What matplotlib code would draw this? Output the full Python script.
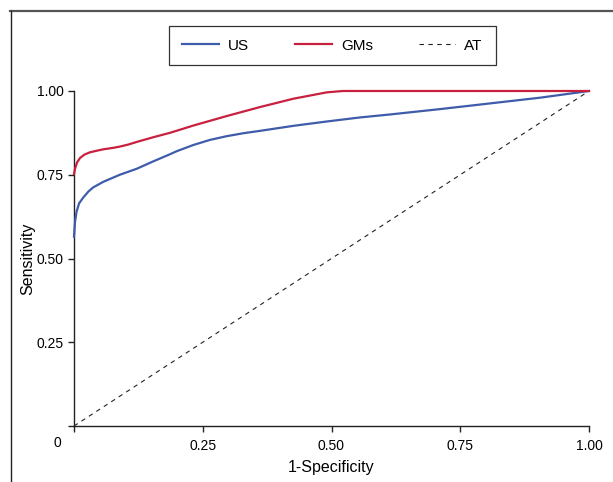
import matplotlib
matplotlib.use("Agg")
import matplotlib.pyplot as plt
from matplotlib.lines import Line2D

plt.rcParams['font.family'] = ['Liberation Sans', 'DejaVu Sans']

# ROC curves
us_fpr = [0, 0.002, 0.005, 0.01, 0.018, 0.028, 0.037, 0.057, 0.089, 0.122, 0.154,
          0.186, 0.199, 0.232, 0.264, 0.296, 0.329, 0.361, 0.426, 0.491, 0.555,
          0.614, 0.711, 0.808, 0.905, 1.0]
us_tpr = [0.565, 0.61, 0.64, 0.665, 0.682, 0.700, 0.712, 0.729, 0.750, 0.768, 0.790,
          0.811, 0.820, 0.839, 0.854, 0.865, 0.874, 0.881, 0.896, 0.909, 0.921,
          0.930, 0.946, 0.963, 0.980, 1.0]

gms_fpr = [0, 0.002, 0.006, 0.0117, 0.02, 0.031, 0.045, 0.057, 0.075, 0.089, 0.105,
           0.122, 0.154, 0.186, 0.232, 0.296, 0.361, 0.426, 0.491, 0.522, 1.0]
gms_tpr = [0.752, 0.768, 0.787, 0.80, 0.81, 0.817, 0.822, 0.826, 0.830, 0.834, 0.840,
           0.848, 0.862, 0.875, 0.897, 0.925, 0.952, 0.977, 0.996, 1.0, 1.0]

ref_x = [0, 1]
ref_y = [0, 1]

ticks = [0, 0.25, 0.5, 0.75, 1.0]
tick_labels = ['', '0.25', '0.50', '0.75', '1.00']

fig = plt.figure(figsize=(6.13, 4.82), dpi=100)
ax = fig.add_axes([74 / 613, 1 - 426 / 482, 515 / 613, 335 / 482])

ax.plot(us_fpr, us_tpr, color='#3f5cab', lw=1.6, label='US', clip_on=False, zorder=3)
ax.plot(gms_fpr, gms_tpr, color='#c8203f', lw=1.6, label='GMs', clip_on=False, zorder=3)
ax.plot(ref_x, ref_y, color='#222222', lw=0.8, ls=(0, (4, 4)), label='AT', clip_on=False)

ax.set_xlim(0, 1)
ax.set_ylim(0, 1)
ax.set_xticks(ticks)
ax.set_xticklabels(tick_labels)
ax.set_yticks(ticks)
ax.set_yticklabels(tick_labels)
ax.tick_params(direction='out', length=4.3, width=1.0, color='#222222',
               labelsize=10, pad=3)
ax.tick_params(axis='x', pad=5)
for s in ['top', 'right']:
    ax.spines[s].set_visible(False)
for s in ['left', 'bottom']:
    ax.spines[s].set_linewidth(1.0)
    ax.spines[s].set_color('#222222')

ax.text((57 - 74) / 515, (426 - 443) / 335, '0', transform=ax.transAxes,
        ha='center', va='center', fontsize=10)

ax.set_xlabel('1-Specificity', fontsize=11.5)
ax.set_ylabel('Sensitivity', fontsize=11.5)
ax.xaxis.set_label_coords(0.5, (426 - 460) / 335)
ax.yaxis.set_label_coords((35 - 74) / 515, 0.5)

leg = fig.legend(loc='center', bbox_to_anchor=(332.5 / 613, 1 - 45.5 / 482), ncol=3,
                 fontsize=11, frameon=True, fancybox=False, edgecolor='black',
                 handlelength=2.4, handletextpad=0.6, columnspacing=3.0,
                 borderpad=0.85)
leg.get_frame().set_linewidth(0.9)

# outer frame lines (top and left)
fig.add_artist(Line2D([10 / 613, 1], [1 - 11 / 482, 1 - 11 / 482], color='#555555', lw=1.6))
fig.add_artist(Line2D([11 / 613, 11 / 613], [0, 1 - 11 / 482], color='#222222', lw=1.0))

fig.savefig('out.png', dpi=100)
